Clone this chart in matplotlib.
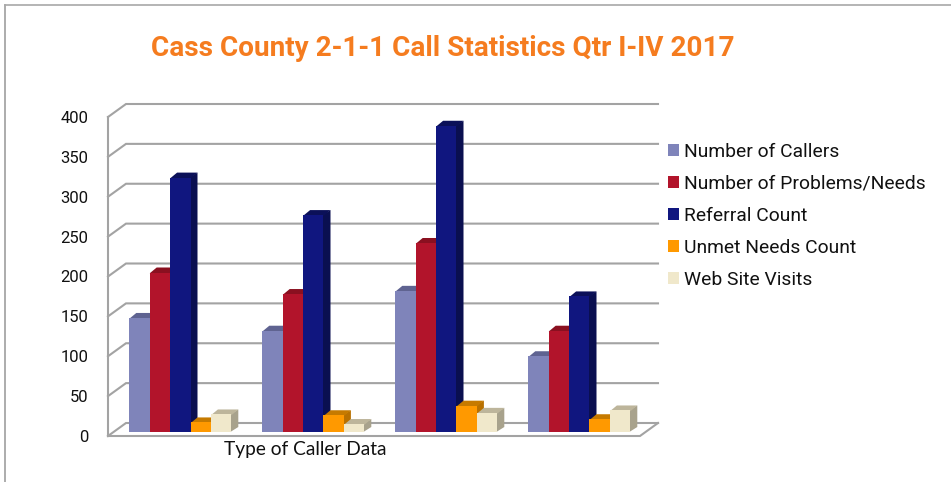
import matplotlib
matplotlib.use("Agg")
import matplotlib.pyplot as plt
from matplotlib.patches import Polygon, Patch
from matplotlib.lines import Line2D

series = ["Number of Callers", "Number of Problems/Needs", "Referral Count",
          "Unmet Needs Count", "Web Site Visits"]
callers = [143, 127, 177, 95]
problems = [200, 173, 237, 127]
referrals = [319, 272, 384, 170]
unmet = [12, 21, 33, 16]
visits = [22, 10, 24, 27]
values = [callers, problems, referrals, unmet, visits]
yticks = [0, 50, 100, 150, 200, 250, 300, 350, 400]
front = ["#7F84BA", "#B2142B", "#10167F", "#FF9900", "#F0E8CB"]
top = ["#5F6391", "#8A1020", "#0B1058", "#C67A00", "#BDB59B"]
side = ["#5A5E8C", "#7E0E1E", "#0A0F50", "#B87000", "#A8A28C"]
grid = "#A3A3A3"
W, H = 951, 482

fig = plt.figure(figsize=(W / 100, H / 100), dpi=100, facecolor="white")
ax = fig.add_axes([108 / W, 1 - 436 / H, 532 / W, 319 / H])
ax.set_xlim(0, 4)
ax.set_ylim(0, 400)
ax.patch.set_visible(False)
for s in ax.spines.values():
    s.set_visible(False)

dx = 18 / 133
dy = 13 / 0.7975
for v in yticks:
    ax.plot([0, dx, 4 + dx], [v, v + dy, v + dy], color=grid, lw=1.5,
            clip_on=False, zorder=1, solid_joinstyle="miter")
ax.plot([0, 0], [0, 400], color=grid, lw=1.5, clip_on=False, zorder=1)
ax.plot([0, 4, 4 + dx], [0, 0, dy], color=grid, lw=1.5, clip_on=False, zorder=1,
        solid_joinstyle="miter")

bw = 20.4 / 133
pad = 15.8 / 133
bx = 5.5 / 133
by = 4 / 0.7975
bdx = 7 / 133
bdy = 5 / 0.7975
lap = 1 / 133
z = 2
for g in range(4):
    for i, vals in enumerate(values):
        v = vals[g]
        x0 = g + pad + i * bw + bx
        x1 = x0 + bw
        ytop = v + by
        ax.add_patch(Polygon([(x1 - lap, by), (x1 + bdx, by + bdy), (x1 + bdx, ytop + bdy), (x1 - lap, ytop)],
                             closed=True, fc=side[i], ec="none", clip_on=False, zorder=z))
        ax.add_patch(Polygon([(x0, ytop - 1), (x0 + bdx, ytop + bdy), (x1 + bdx, ytop + bdy), (x1, ytop - 1)],
                             closed=True, fc=top[i], ec="none", clip_on=False, zorder=z + 0.2))
        ax.bar(x0, v, width=bw, bottom=by, align="edge", color=front[i], clip_on=False, zorder=z + 0.5)
        z += 1

ax.set_xticks([])
ax.set_yticks(yticks)
ax.set_yticklabels([str(t) for t in yticks], family="Roboto", fontsize=12, color="#111111")
ax.tick_params(axis="y", length=0, pad=14)

fig.text(305 / W, 1 - 449 / H, "Type of Caller Data", family="Lato", fontsize=13.8,
         color="#111111", ha="center", va="center")
fig.text(443 / W, 1 - 49 / H, "Cass County 2-1-1 Call Statistics Qtr I-IV 2017", family="Roboto",
         fontsize=20.1, fontweight="bold", color="#F57C1F", ha="center", va="center")

handles = [Patch(fc=c, ec="none") for c in front]
fig.legend(handles, series, loc="upper left", bbox_to_anchor=(668 / W, 1 - 143 / H), frameon=False,
           prop={"family": "Roboto", "size": 13.9}, handlelength=0.57, handleheight=0.57,
           handletextpad=0.26, labelspacing=0.725, borderpad=0, borderaxespad=0,
           labelcolor="#111111")

fig.add_artist(Line2D([5 / W, 5 / W], [0, 1 - 5 / H], color="#9E9E9E", lw=1.2))
fig.add_artist(Line2D([5 / W, 1], [1 - 5 / H, 1 - 5 / H], color="#A8A8A8", lw=1.2))
fig.savefig("out.png", dpi=100)
